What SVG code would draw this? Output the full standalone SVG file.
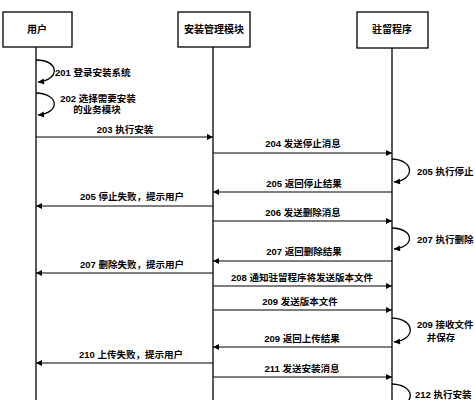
<svg xmlns="http://www.w3.org/2000/svg" width="475" height="400" viewBox="0 0 475 400">
<style>
.box{fill:#fff;stroke:#000;stroke-width:1.3}
.life{stroke:#000;stroke-width:1.3}
.msg{stroke:#000;stroke-width:1.1;fill:none}
.loop{stroke:#000;stroke-width:1.3;fill:none}
text{font-family:"Liberation Sans","Noto Sans CJK SC",sans-serif;font-weight:bold;font-size:9.5px;fill:#000}
.c{text-anchor:middle}
.h{font-size:10px}
</style>
<defs>
<marker id="ah" viewBox="0 0 10 10" refX="10" refY="5" markerWidth="7" markerHeight="6" orient="auto" markerUnits="userSpaceOnUse">
<path d="M0,0 L10,5 L0,10 Z" fill="#000"/>
</marker>
</defs>
<rect width="475" height="400" fill="#fff"/>
<g id="user">
<rect class="box" x="3" y="12" width="69" height="35"/>
<text class="c h" x="37" y="33">用户</text>
<line class="life" x1="36" y1="47" x2="36" y2="400"/>
</g>
<g id="manager">
<rect class="box" x="178" y="12" width="72" height="35"/>
<text class="c h" x="214" y="33">安装管理模块</text>
<line class="life" x1="213" y1="47" x2="213" y2="400"/>
</g>
<g id="resident">
<rect class="box" x="357" y="12" width="71" height="36"/>
<text class="c h" x="392" y="33">驻留程序</text>
<line class="life" x1="392" y1="48" x2="392" y2="400"/>
</g>
<g id="connectors">
<path class="loop" d="M36,60 C60,60 60,80 38,82" marker-end="url(#ah)"/>
<path class="loop" d="M36,93 C60,94 60,113 38,115" marker-end="url(#ah)"/>
<line class="msg" x1="36" y1="137" x2="213" y2="137" marker-end="url(#ah)"/>
<line class="msg" x1="213" y1="153" x2="392" y2="153" marker-end="url(#ah)"/>
<path class="loop" d="M392,159 C415,160 415,180 394,182" marker-end="url(#ah)"/>
<line class="msg" x1="392" y1="192" x2="213" y2="192" marker-end="url(#ah)"/>
<line class="msg" x1="213" y1="206" x2="36" y2="206" marker-end="url(#ah)"/>
<line class="msg" x1="213" y1="221" x2="392" y2="221" marker-end="url(#ah)"/>
<path class="loop" d="M392,228 C415,229 415,247 394,249" marker-end="url(#ah)"/>
<line class="msg" x1="392" y1="261" x2="213" y2="261" marker-end="url(#ah)"/>
<line class="msg" x1="213" y1="273" x2="36" y2="273" marker-end="url(#ah)"/>
<line class="msg" x1="213" y1="286" x2="392" y2="286" marker-end="url(#ah)"/>
<line class="msg" x1="213" y1="310" x2="392" y2="310" marker-end="url(#ah)"/>
<path class="loop" d="M392,318 C416,319 416,340 394,342" marker-end="url(#ah)"/>
<line class="msg" x1="392" y1="347" x2="213" y2="347" marker-end="url(#ah)"/>
<line class="msg" x1="213" y1="363" x2="36" y2="363" marker-end="url(#ah)"/>
<line class="msg" x1="213" y1="377" x2="392" y2="377" marker-end="url(#ah)"/>
<path class="loop" d="M392,384 C416,385 416,405 394,407"/>
</g>
<g id="labels">
<text x="55" y="76">201 登录安装系统</text>
<text class="c" x="98" y="102">202 选择需要安装</text>
<text class="c" x="97" y="113">的业务模块</text>
<text class="c" x="125" y="133">203 执行安装</text>
<text class="c" x="303" y="147">204 发送停止消息</text>
<text x="417" y="175">205 执行停止</text>
<text class="c" x="304" y="187">205 返回停止结果</text>
<text class="c" x="132" y="200">205 停止失败，提示用户</text>
<text class="c" x="303" y="216">206 发送删除消息</text>
<text x="417" y="243">207 执行删除</text>
<text class="c" x="304" y="255">207 返回删除结果</text>
<text class="c" x="132" y="268">207 删除失败，提示用户</text>
<text class="c" x="302" y="281">208 通知驻留程序将发送版本文件</text>
<text class="c" x="300" y="305">209 发送版本文件</text>
<text x="417" y="328">209 接收文件</text>
<text class="c" x="441" y="341">并保存</text>
<text class="c" x="302" y="342">209 返回上传结果</text>
<text class="c" x="131" y="358">210 上传失败，提示用户</text>
<text class="c" x="302" y="372">211 发送安装消息</text>
<text x="415" y="398">212 执行安装</text>
</g>
</svg>
